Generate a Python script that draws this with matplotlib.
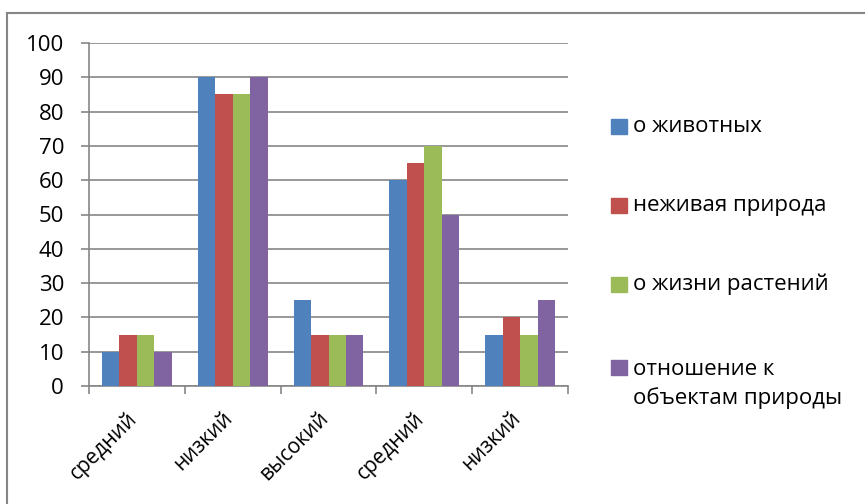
import numpy as np
import matplotlib
matplotlib.use("Agg")
import matplotlib.pyplot as plt
import matplotlib.transforms as mtrans
from matplotlib.patches import Rectangle
from matplotlib.lines import Line2D

plt.rcParams['font.family'] = ['Open Sans', 'DejaVu Sans']

# data
categories = ["средний", "низкий", "высокий", "средний", "низкий"]
series_names = ["о животных", "неживая природа", "о жизни растений",
                "отношение к\nобъектам природы"]
animals = [10, 90, 25, 60, 15]
inanimate = [15, 85, 15, 65, 20]
plants = [15, 85, 15, 70, 15]
attitude = [10, 90, 15, 50, 25]
series = [animals, inanimate, plants, attitude]
colors = ["#4F81BD", "#C0504D", "#9BBB59", "#8064A2"]
y_ticks = [0, 10, 20, 30, 40, 50, 60, 70, 80, 90, 100]

W, H = 865, 504
fig = plt.figure(figsize=(W / 100, H / 100), dpi=100)


def fx(px):
    return px / W


def fy(py):
    return 1 - py / H


ax = fig.add_axes([fx(89), fy(386), fx(568) - fx(89), fy(43) - fy(386)])

x = np.arange(len(categories))
bw = 1 / 5.5
for i, (vals, col) in enumerate(zip(series, colors)):
    ax.bar(x + (i - 1.5) * bw, vals, width=bw, color=col, zorder=3)

ax.set_xlim(-0.5, len(categories) - 0.5)
ax.set_ylim(0, 100)
ax.set_yticks(y_ticks)
ax.yaxis.grid(True, color="#868686", linewidth=1.2, zorder=0)
ax.set_axisbelow(True)

for s in ["top", "right"]:
    ax.spines[s].set_visible(False)
for s in ["left", "bottom"]:
    ax.spines[s].set_color("#868686")
    ax.spines[s].set_linewidth(1.2)

ax.tick_params(axis="y", length=6, width=1.2, color="#868686", pad=12,
               labelsize=16, labelcolor="black")
# category boundaries get the tick marks, labels sit at centers
ax.set_xticks(np.arange(-0.5, len(categories), 1.0), minor=True)
ax.set_xticks(x)
ax.tick_params(axis="x", which="major", length=0, pad=21)
ax.tick_params(axis="x", which="minor", length=6, width=1.2, color="#868686")
ax.set_xticklabels(categories, rotation=45, ha="right", va="center",
                   rotation_mode="anchor", fontsize=15)
shift = mtrans.ScaledTranslation(-3 / 100, 0, fig.dpi_scale_trans)
for lab in ax.get_xticklabels():
    lab.set_transform(lab.get_transform() + shift)

# legend drawn by hand so the wrapped label keeps its square on the first line
leg_y = [126, 205, 284, 367]
for name, col, yy in zip(series_names, colors, leg_y):
    fig.patches.append(Rectangle((fx(611), fy(yy + 8)), fx(16), fy(yy - 7) - fy(yy + 8),
                                 transform=fig.transFigure, color=col))
    if "\n" in name:
        fig.text(fx(633), fy(yy - 8), name, fontsize=16, va="top", ha="left",
                 linespacing=1.45)
    else:
        fig.text(fx(633), fy(yy), name, fontsize=16, va="center", ha="left")

# chart border, only top and left edges are in frame
fig.lines.append(Line2D([fx(7), 1], [fy(13), fy(13)], color="#868686", linewidth=1.5,
                        transform=fig.transFigure))
fig.lines.append(Line2D([fx(7), fx(7)], [fy(13), 0], color="#868686", linewidth=1.5,
                        transform=fig.transFigure))

fig.savefig("out.png", dpi=100)
